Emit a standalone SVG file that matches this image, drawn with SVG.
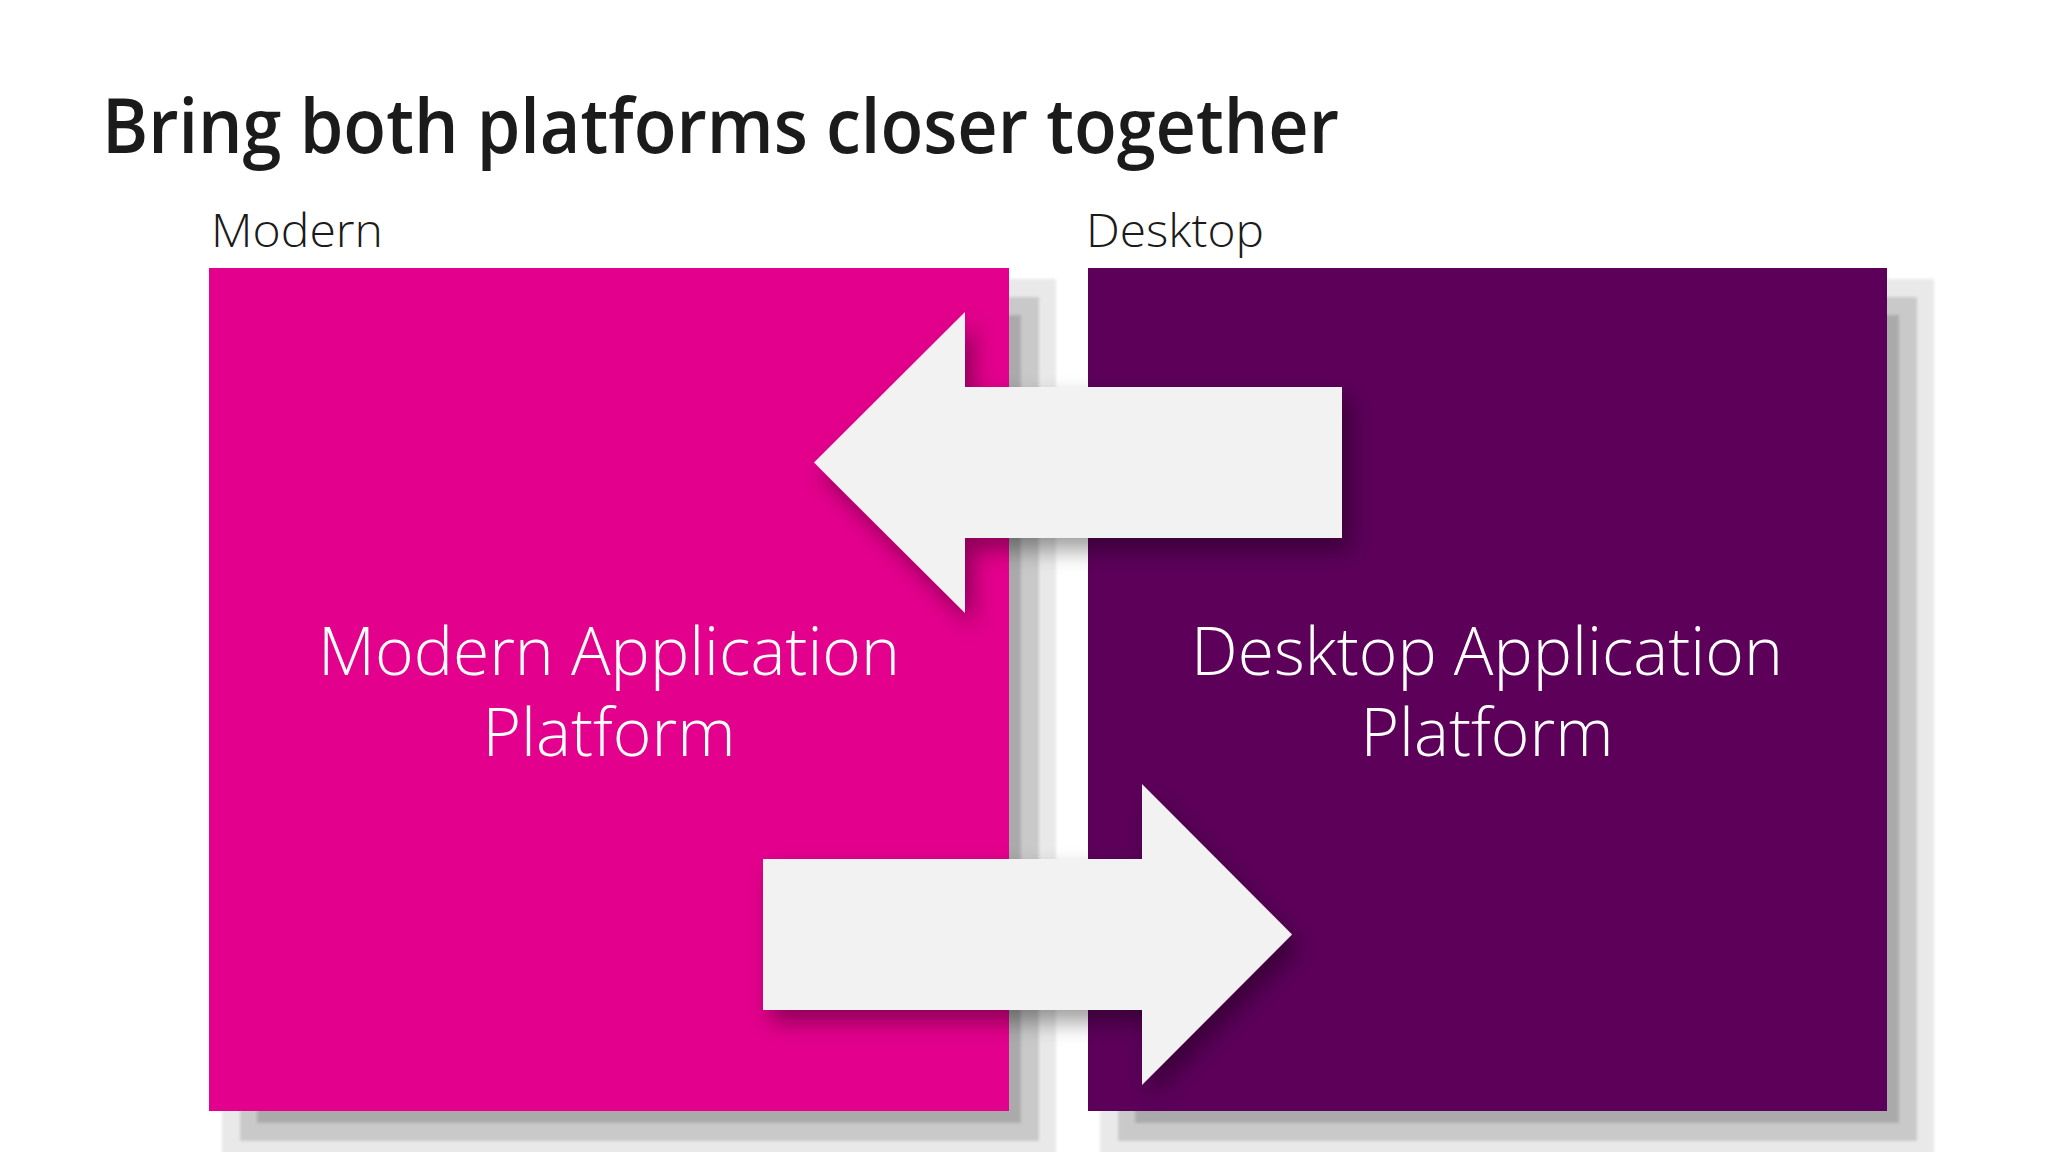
<svg xmlns="http://www.w3.org/2000/svg" width="2048" height="1152" viewBox="0 0 2048 1152">
  <style>
    .title { font-family: "Open Sans", "Liberation Sans", sans-serif; font-weight: 600; font-size: 76px; fill: #1b1b1b; }
    .label { font-family: "Open Sans", "Liberation Sans", sans-serif; font-weight: 300; font-size: 46px; fill: #1b1b1b; }
    .inner { font-family: "Open Sans", "Liberation Sans", sans-serif; font-weight: 300; font-size: 66px; fill: #ffffff; text-anchor: middle; }
    .sh1 { fill: #e9e9e9; }
    .sh2 { fill: #c9c9c9; }
    .sh3 { fill: #aaaaaa; }
    .arrow { fill: #f2f2f2; filter: url(#arrowShadow); }
  </style>
  <defs>
    <filter id="arrowShadow" x="-20%" y="-20%" width="150%" height="160%">
      <feDropShadow dx="8" dy="12" stdDeviation="11" flood-color="#000000" flood-opacity="0.38"/>
    </filter>
    <filter id="soft" x="-10%" y="-10%" width="120%" height="120%">
      <feGaussianBlur stdDeviation="1.5"/>
    </filter>
  </defs>
  <rect x="0" y="0" width="2048" height="1152" fill="#ffffff"/>

  <g id="title">
    <text class="title" x="102" y="153" textLength="1237" lengthAdjust="spacingAndGlyphs">Bring both platforms closer together</text>
  </g>
  <g id="label-modern">
    <text class="label" x="211" y="247" textLength="172" lengthAdjust="spacingAndGlyphs">Modern</text>
  </g>
  <g id="label-desktop">
    <text class="label" x="1086" y="247" textLength="178" lengthAdjust="spacingAndGlyphs">Desktop</text>
  </g>

  <g id="node-modern">
    <g filter="url(#soft)">
      <rect class="sh1" x="222" y="279" width="834" height="880"/>
      <rect class="sh2" x="240" y="297" width="799" height="844"/>
      <rect class="sh3" x="257" y="315" width="764" height="808"/>
    </g>
    <rect x="209" y="268" width="800" height="843" fill="#e3008c"/>
    <text class="inner"><tspan x="609" y="675">Modern Application</tspan><tspan x="609" y="756">Platform</tspan></text>
  </g>

  <g id="node-desktop">
    <g filter="url(#soft)">
      <rect class="sh1" x="1100" y="279" width="834" height="880"/>
      <rect class="sh2" x="1118" y="297" width="799" height="844"/>
      <rect class="sh3" x="1135" y="315" width="764" height="808"/>
    </g>
    <rect x="1088" y="268" width="799" height="843" fill="#5c005a"/>
    <text class="inner"><tspan x="1487" y="675">Desktop Application</tspan><tspan x="1487" y="756">Platform</tspan></text>
  </g>

  <g id="connectors">
    <polygon id="arrow-to-modern" class="arrow" points="814,462.5 965,312 965,387 1342,387 1342,538 965,538 965,613"/>
    <polygon id="arrow-to-desktop" class="arrow" points="1292,934.5 1142,784 1142,859 763,859 763,1010 1142,1010 1142,1085"/>
  </g>
</svg>
